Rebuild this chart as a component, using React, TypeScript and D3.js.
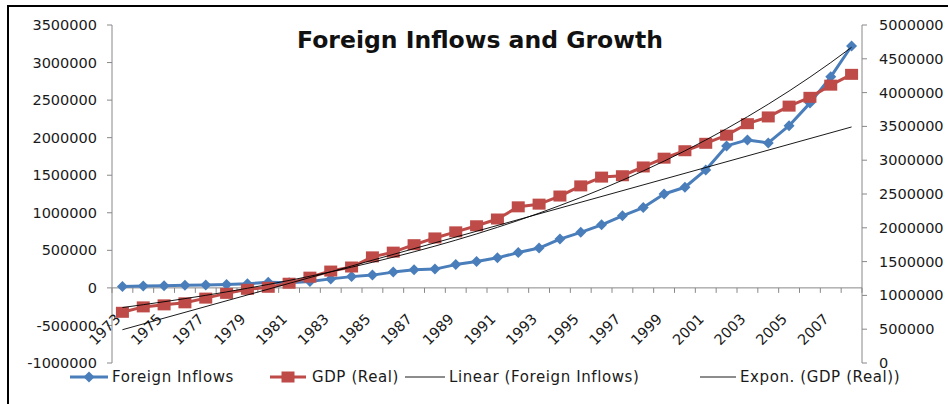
import React from 'react';
import * as d3 from 'd3';

const years = ['1973','1974','1975','1976','1977','1978','1979','1980','1981','1982','1983','1984','1985','1986','1987','1988','1989','1990','1991','1992','1993','1994','1995','1996','1997','1998','1999','2000','2001','2002','2003','2004','2005','2006','2007','2008'];

const foreignInflows = [20000, 25000, 30000, 35000, 40000, 45000, 55000, 75000, 70000, 85000,
  120000, 150000, 170000, 210000, 240000, 250000, 310000, 350000, 400000, 470000,
  530000, 650000, 740000, 840000, 960000, 1070000, 1250000, 1340000, 1570000, 1890000,
  1970000, 1930000, 2160000, 2460000, 2810000, 3220000];

const gdpReal = [750000, 830000, 860000, 890000, 960000, 1030000, 1090000, 1120000, 1180000, 1270000,
  1360000, 1420000, 1570000, 1640000, 1750000, 1850000, 1940000, 2030000, 2130000, 2310000,
  2350000, 2470000, 2620000, 2750000, 2770000, 2900000, 3030000, 3140000, 3250000, 3370000,
  3540000, 3640000, 3800000, 3930000, 4110000, 4270000];

const leftTicks = [-1000000, -500000, 0, 500000, 1000000, 1500000, 2000000, 2500000, 3000000, 3500000];
const rightTicks = [0, 500000, 1000000, 1500000, 2000000, 2500000, 3000000, 3500000, 4000000, 4500000, 5000000];

const chartTitle = 'Foreign Inflows and Growth';
const legendLabels = ['Foreign Inflows', 'GDP (Real)', 'Linear (Foreign Inflows)', 'Expon. (GDP (Real))'];

const BLUE = '#4A7EBB';
const RED = '#BE4B48';

function fit(xs: number[], ys: number[]) {
  const mx = d3.mean(xs) as number;
  const my = d3.mean(ys) as number;
  const sxy = d3.sum(xs.map((v, i) => (v - mx) * (ys[i] - my)));
  const sxx = d3.sum(xs.map((v) => (v - mx) * (v - mx)));
  const b = sxy / sxx;
  return { a: my - b * mx, b };
}

export default function App() {
  const W = 948, H = 404;
  const x = d3.scaleBand<string>().domain(years).range([112, 862]);
  const yL = d3.scaleLinear().domain([-1000000, 3500000]).range([363, 25]);
  const yR = d3.scaleLinear().domain([0, 5000000]).range([363, 25]);
  const cx = (yr: string) => (x(yr) as number) + x.bandwidth() / 2;

  const idx = years.map((_, i) => i);
  const lin = fit(idx, foreignInflows);
  const ex = fit(idx, gdpReal.map((v) => Math.log(v)));

  const blueLine = d3.line<number>().x((d, i) => cx(years[i])).y((d) => yL(d))(foreignInflows) as string;
  const redLine = d3.line<number>().x((d, i) => cx(years[i])).y((d) => yR(d))(gdpReal) as string;
  const linTrend = d3.line<number>().x((i) => cx(years[i])).y((i) => yL(lin.a + lin.b * i))([0, years.length - 1]) as string;
  const expTrend = d3.line<number>().x((i) => cx(years[i])).y((i) => yR(Math.exp(ex.a + ex.b * i)))(idx) as string;

  const tickFont = { fontFamily: 'DejaVu Sans', fontSize: 14.5, fill: '#1a1a1a' } as const;
  const diamond = (px: number, py: number, r: number) => `M${px},${py - r}L${px + r},${py}L${px},${py + r}L${px - r},${py}Z`;
  const bandEdges = d3.range(years.length + 1).map((i) => 112 + i * x.step());

  const legendY = 377;
  const legendItems = [
    { x0: 70, x1: 108, tx: 112, kind: 'blue' },
    { x0: 270, x1: 306, tx: 312, kind: 'red' },
    { x0: 405, x1: 445, tx: 449, kind: 'line' },
    { x0: 700, x1: 736, tx: 740, kind: 'line' },
  ];

  return (
    <div style={{ position: 'absolute', left: 0, top: 0 }}>
      <svg width={W} height={H} style={{ display: 'block', background: '#fff' }}>
        <rect x={0} y={0} width={W} height={H} fill="#fff" />
        <rect x={8} y={6} width={W + 20} height={H + 20} fill="none" stroke="#000" strokeWidth={2} />

        <text x={480} y={48} textAnchor="middle" style={{ fontFamily: 'DejaVu Sans', fontWeight: 'bold', fontSize: 23.5, fill: '#111' }}>{chartTitle}</text>

        {/* left axis */}
        <line x1={112} x2={112} y1={25} y2={363} stroke="#888" strokeWidth={1} />
        {leftTicks.map((t) => (
          <g key={'l' + t}>
            <line x1={107} x2={112} y1={yL(t)} y2={yL(t)} stroke="#888" />
            <text x={97} y={yL(t)} dy="0.35em" textAnchor="end" style={tickFont}>{t}</text>
          </g>
        ))}

        {/* right axis */}
        <line x1={862} x2={862} y1={25} y2={363} stroke="#888" strokeWidth={1} />
        {rightTicks.map((t) => (
          <g key={'r' + t}>
            <line x1={862} x2={867} y1={yR(t)} y2={yR(t)} stroke="#888" />
            <text x={879} y={yR(t)} dy="0.35em" textAnchor="start" style={tickFont}>{t}</text>
          </g>
        ))}

        {/* category axis at zero */}
        <line x1={112} x2={862} y1={yL(0)} y2={yL(0)} stroke="#888" strokeWidth={1} />
        {bandEdges.map((bx, i) => (
          <line key={'t' + i} x1={bx} x2={bx} y1={yL(0)} y2={yL(0) + 5} stroke="#888" />
        ))}
        {years.map((yr, i) => i % 2 === 0 ? (
          <text key={'x' + yr} transform={`translate(${cx(yr) - 1},${yL(0) + 32}) rotate(-45)`} textAnchor="end" style={tickFont}>{yr}</text>
        ) : null)}

        {/* series */}
        <path d={blueLine} fill="none" stroke={BLUE} strokeWidth={3} strokeLinejoin="round" />
        {foreignInflows.map((v, i) => (
          <path key={'b' + i} d={diamond(cx(years[i]), yL(v), 5.5)} fill={BLUE} />
        ))}
        <path d={redLine} fill="none" stroke={RED} strokeWidth={3} strokeLinejoin="round" />
        {gdpReal.map((v, i) => (
          <rect key={'s' + i} x={cx(years[i]) - 6.5} y={yR(v) - 5.5} width={13} height={11} fill={RED} />
        ))}

        {/* trendlines */}
        <path d={linTrend} fill="none" stroke="#000" strokeWidth={0.9} />
        <path d={expTrend} fill="none" stroke="#000" strokeWidth={0.9} />

        {/* legend */}
        {legendItems.map((it, k) => (
          <g key={'lg' + k}>
            {it.kind === 'blue' && (
              <>
                <line x1={it.x0} x2={it.x1} y1={legendY} y2={legendY} stroke={BLUE} strokeWidth={3} />
                <path d={diamond((it.x0 + it.x1) / 2, legendY, 5.5)} fill={BLUE} />
              </>
            )}
            {it.kind === 'red' && (
              <>
                <line x1={it.x0} x2={it.x1} y1={legendY} y2={legendY} stroke={RED} strokeWidth={3} />
                <rect x={(it.x0 + it.x1) / 2 - 6.5} y={legendY - 5.5} width={13} height={11} fill={RED} />
              </>
            )}
            {it.kind === 'line' && (
              <line x1={it.x0} x2={it.x1} y1={legendY} y2={legendY} stroke="#000" strokeWidth={0.9} />
            )}
            <text x={it.tx} y={legendY} dy="0.35em" style={{ fontFamily: 'DejaVu Sans', fontSize: 15, letterSpacing: 0.6, fill: '#1a1a1a' }}>{legendLabels[k]}</text>
          </g>
        ))}
      </svg>
    </div>
  );
}
